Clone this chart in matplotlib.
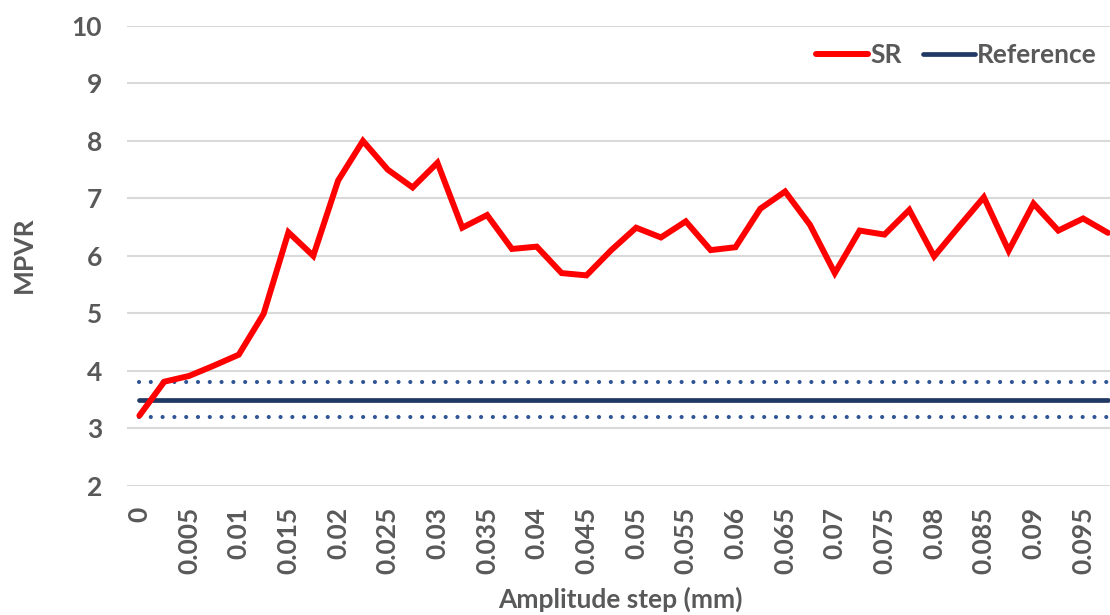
# Grafico MPVR vs amplitude step
import matplotlib
matplotlib.use("Agg")
import matplotlib.pyplot as plt

# Datos
amplitud = ["0", "0.0025", "0.005", "0.0075", "0.01", "0.0125", "0.015", "0.0175",
            "0.02", "0.0225", "0.025", "0.0275", "0.03", "0.0325", "0.035", "0.0375",
            "0.04", "0.0425", "0.045", "0.0475", "0.05", "0.0525", "0.055", "0.0575",
            "0.06", "0.0625", "0.065", "0.0675", "0.07", "0.0725", "0.075", "0.0775",
            "0.08", "0.0825", "0.085", "0.0875", "0.09", "0.0925", "0.095", "0.0975"]
sr = [3.22, 3.81, 3.91, 4.09, 4.28, 4.99, 6.41, 6.0, 7.31, 8.0,
      7.5, 7.19, 7.62, 6.49, 6.71, 6.12, 6.16, 5.70, 5.66, 6.10,
      6.49, 6.32, 6.60, 6.10, 6.15, 6.82, 7.12, 6.54, 5.70, 6.44,
      6.37, 6.80, 5.99, 6.51, 7.02, 6.09, 6.91, 6.44, 6.65, 6.40]
referencia = 3.5
ref_inferior = 3.2
ref_superior = 3.8
etiquetas_x = ["0", "0.005", "0.01", "0.015", "0.02", "0.025", "0.03", "0.035", "0.04",
               "0.045", "0.05", "0.055", "0.06", "0.065", "0.07", "0.075", "0.08",
               "0.085", "0.09", "0.095"]
etiquetas_y = [2, 3, 4, 5, 6, 7, 8, 9, 10]

gris = "#595959"
fs = 19
plt.rcParams['font.family'] = ['Lato', 'DejaVu Sans']
plt.rcParams['font.weight'] = 'bold'

fig = plt.figure(figsize=(11.1, 6.15), dpi=100)
ax = fig.add_axes([127 / 1110, 1 - 485.7 / 615, (1120.4 - 127) / 1110, 459.7 / 615])

x = list(range(len(amplitud)))
ax.plot(x, [ref_superior] * len(x), color="#2F5597", lw=3.0,
        linestyle=(0, (0.001, 2.83)), dash_capstyle='round')
ax.plot(x, [ref_inferior] * len(x), color="#2F5597", lw=3.0,
        linestyle=(0, (0.001, 2.83)), dash_capstyle='round')
ax.plot(x, [referencia] * len(x), color="#203864", lw=3.4,
        solid_capstyle='round', label='Reference')
ax.plot(x, sr, color="#FF0000", lw=4.3, solid_capstyle='round',
        solid_joinstyle='miter', label='SR')

ax.set_xlim(-0.5, len(x) - 0.5)
ax.set_ylim(2, 10)
ax.set_yticks(etiquetas_y)
ax.set_yticklabels([str(v) for v in etiquetas_y])
ax.set_xticks(x[::2])
ax.set_xticklabels(etiquetas_x, rotation=90)
ax.tick_params(axis='y', length=0, pad=18, labelsize=fs, labelcolor=gris)
ax.tick_params(axis='x', length=0, pad=15, labelsize=fs, labelcolor=gris)
ax.grid(axis='y', color="#D9D9D9", lw=1.5)
ax.set_axisbelow(True)
for s in ax.spines.values():
    s.set_visible(False)

fig.text(24 / 1110, 1 - 255 / 615, "MPVR", rotation=90, ha='center', va='center',
         fontsize=fs, color=gris, fontweight='bold')
fig.text(620 / 1110, 1 - 599 / 615, "Amplitude step (mm)", ha='center', va='center',
         fontsize=fs, color=gris, fontweight='bold')

h, l = ax.get_legend_handles_labels()
leg = fig.legend(h[::-1], l[::-1], ncol=2, frameon=False, loc='center right',
                 bbox_to_anchor=(1097 / 1110, 1 - 55 / 615), fontsize=fs,
                 handlelength=1.97, handletextpad=0.1, columnspacing=0.8,
                 borderaxespad=0, borderpad=0)
for t in leg.get_texts():
    t.set_color(gris)

plt.savefig("out.png", dpi=100)
